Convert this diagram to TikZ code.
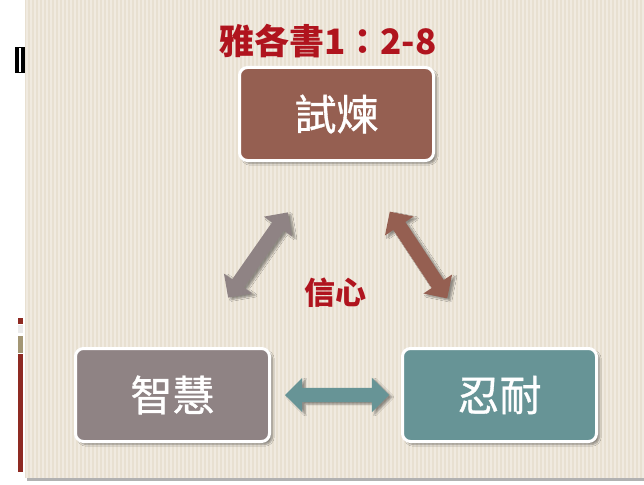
\documentclass[tikz,border=0pt]{standalone}
\usepackage{fontspec}
\newfontfamily\cjk{Noto Sans CJK TC}
\newfontfamily\cjkmid{Noto Sans CJK TC}[FakeBold=0.8]
\usetikzlibrary{shapes.arrows,shadows.blur}

\definecolor{slidebg}{HTML}{E8E0D1}
\definecolor{stripe}{HTML}{F0EAE0}
\definecolor{trialc}{HTML}{955F51}
\definecolor{wisdomc}{HTML}{8F8384}
\definecolor{patiencec}{HTML}{679496}
\definecolor{titlered}{HTML}{B0141E}
\definecolor{barred}{HTML}{8E2A22}
\definecolor{barkhaki}{HTML}{A39674}

\begin{document}
\begin{tikzpicture}[x=1pt, y=-1pt,
  box/.style = {draw=white, line width=3pt, rounded corners=8pt, minimum width=194pt, minimum height=93pt, text=white, font=\cjkmid\fontsize{42}{44}\selectfont, blur shadow={shadow xshift=3pt, shadow yshift=-3pt, shadow blur steps=6}},
  dblarrow/.style = {double arrow, draw=none, minimum height=104pt, inner sep=7pt, double arrow head extend=10pt, blur shadow={shadow xshift=3pt, shadow yshift=-2pt, shadow blur steps=6}},
  heading/.style = {text=titlered, font=\cjk\bfseries\fontsize{#1}{#1}\selectfont}]
\useasboundingbox (0,0) rectangle (644,484);

% slide background
\fill[black!30] (27,478) rectangle (644,481);
\fill[slidebg] (25,0) rectangle (644,478);
\foreach \x in {26,30,...,642}
  \fill[stripe] (\x,0) rectangle ++(2,478);

% left side marks
\fill[black] (15,47) rectangle (25,73);
\fill[white] (19,48) rectangle (20.5,72);
\fill[barred] (18,318) rectangle (23,324);
\fill[black!8] (18,325) rectangle (23,333);
\fill[barkhaki] (18,336) rectangle (23,353);
\fill[barred] (18,354) rectangle (23,472);

\node[heading=35] (title) at (328, 41) {雅各書1：2-8};
\node[box, fill=trialc] (trial) at (336.5, 114) {試煉};
\node[box, fill=wisdomc] (wisdom) at (172.5, 395) {智慧};
\node[box, fill=patiencec] (patience) at (499.5, 395) {忍耐};
\node[heading=31] (faith) at (335, 293) {信心};

\begin{scope}[dblarrow]
\node[dblarrow, fill=wisdomc, rotate=55] (arrowleft) at (258, 255) {};
\node[dblarrow, fill=trialc, rotate=-56.5] (arrowright) at (418.5, 255) {};
\node[dblarrow, fill=patiencec] (arrowbottom) at (337, 395) {};
\end{scope}
\end{tikzpicture}
\end{document}
